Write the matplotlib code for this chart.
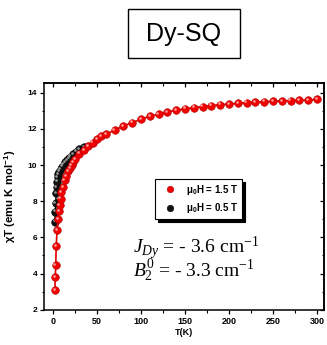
import matplotlib
matplotlib.use('Agg')
import matplotlib.pyplot as plt
from matplotlib.patches import Rectangle
from matplotlib.ticker import MultipleLocator
import matplotlib.transforms as mtransforms

# ---- data ----
T_15 = [2, 2.5, 3, 3.5, 4.5, 5.5, 6.5, 7.5, 8.5, 9.5, 11, 13, 15, 17, 19, 21, 23, 25,
        30, 35, 40, 45, 50, 55, 60, 70, 80, 90, 100, 110, 120, 130, 140, 150, 160,
        170, 180, 190, 200, 210, 220, 230, 240, 250, 260, 270, 280, 290, 300]
chi_15 = [3.10, 3.80, 4.45, 5.50, 6.40, 7.00, 7.45, 7.80, 8.15, 8.50, 8.80, 9.15, 9.40,
          9.65, 9.85, 10.02, 10.18, 10.35, 10.63, 10.85, 11.06, 11.24, 11.43, 11.60,
          11.71, 11.93, 12.17, 12.35, 12.54, 12.70, 12.81, 12.94, 13.03, 13.12, 13.18,
          13.24, 13.29, 13.35, 13.38, 13.42, 13.46, 13.49, 13.51, 13.53, 13.55, 13.57,
          13.59, 13.60, 13.64]
T_05 = [2, 2.5, 3, 3.5, 4, 4.5, 5, 6, 7, 8.5, 10, 12, 14, 16, 18, 20, 23, 26, 30, 35]
chi_05 = [6.88, 7.42, 7.89, 8.44, 8.80, 9.08, 9.33, 9.49, 9.64, 9.77, 9.91, 10.03,
          10.15, 10.27, 10.38, 10.47, 10.62, 10.75, 10.88, 10.98]
label_15 = 'μ$_\\mathregular{0}$H = 1.5 T'
label_05 = 'μ$_\\mathregular{0}$H = 0.5 T'
title = 'Dy-SQ'
xlabel = 'T(K)'
ylabel = 'χT (emu K mol$^{\\mathregular{-1}}$)'
note1 = '$J_{Dy}$ = - 3.6 cm$^{\\mathregular{-1}}$'
note2 = '$B_\\mathregular{2}^\\mathregular{0}$ = - 3.3 cm$^{\\mathregular{-1}}$'

plt.rcParams['font.family'] = ['Liberation Sans', 'DejaVu Sans']
plt.rcParams['mathtext.fontset'] = 'custom'
plt.rcParams['mathtext.it'] = 'Liberation Serif:italic'
plt.rcParams['mathtext.rm'] = 'Liberation Serif'
plt.rcParams['mathtext.bf'] = 'Liberation Serif:bold'

fig = plt.figure(figsize=(3.27, 3.45), dpi=100)
ax = fig.add_axes([0.1355, 0.1023, 0.8555, 0.658])

ms = 5.5
hl = mtransforms.offset_copy(ax.transData, fig=fig, x=-0.9, y=0.9, units='points')

hb, = ax.plot(T_05, chi_05, '-', color='black', lw=1.0, marker='o', ms=ms,
              mfc='#111111', mec='black', mew=0.4, label=label_05, zorder=2)
ax.plot(T_05, chi_05, 'o', ms=ms * 0.35, mfc='#9a9a9a', mec='none', lw=0,
        transform=hl, zorder=2.1)
hr, = ax.plot(T_15, chi_15, '-', color='#e00000', lw=1.2, marker='o', ms=ms,
              mfc='#f00000', mec='#b00000', mew=0.4, label=label_15, zorder=3)
ax.plot(T_15, chi_15, 'o', ms=ms * 0.35, mfc='#ff9a9a', mec='none', lw=0,
        transform=hl, zorder=3.1)

ax.set_xlim(-10, 308)
ax.set_ylim(2, 14.56)
ax.xaxis.set_major_locator(MultipleLocator(50))
ax.xaxis.set_minor_locator(MultipleLocator(25))
ax.yaxis.set_major_locator(MultipleLocator(2))
ax.yaxis.set_minor_locator(MultipleLocator(1))
ax.tick_params(which='major', direction='out', length=3, width=0.9, pad=2)
ax.tick_params(which='minor', direction='out', length=1.8, width=0.8)
ax.tick_params(axis='x', labelsize=6.5)
ax.tick_params(axis='y', labelsize=6)
for lab in ax.get_xticklabels() + ax.get_yticklabels():
    lab.set_fontweight('bold')
for s in ax.spines.values():
    s.set_linewidth(1.1)

secx = ax.secondary_xaxis('top')
secx.xaxis.set_major_locator(MultipleLocator(50))
secx.xaxis.set_minor_locator(MultipleLocator(25))
secx.tick_params(which='major', direction='in', length=3, width=0.9, labeltop=False)
secx.tick_params(which='minor', direction='in', length=1.8, width=0.8)
secx.spines['top'].set_linewidth(1.1)
secy = ax.secondary_yaxis('right')
secy.yaxis.set_major_locator(MultipleLocator(2))
secy.yaxis.set_minor_locator(MultipleLocator(1))
secy.tick_params(which='major', direction='in', length=3, width=0.9, labelright=False)
secy.tick_params(which='minor', direction='in', length=1.8, width=0.8)
secy.spines['right'].set_linewidth(1.1)

ax.set_xlabel(xlabel, fontsize=6.5, fontweight='bold', labelpad=2)
ax.set_ylabel(ylabel, fontsize=8.2, fontweight='bold')
ax.yaxis.set_label_coords(-0.094, 0.5)

leg = ax.legend(handles=[hr, hb], loc='upper left', bbox_to_anchor=(0.396, 0.576),
                borderaxespad=0, frameon=True, fancybox=False,
                shadow={'color': 'black', 'alpha': 1},
                prop={'family': 'Liberation Sans', 'weight': 'bold', 'size': 7},
                numpoints=1, handlelength=2.2, handletextpad=0.6,
                labelspacing=0.45, borderpad=0.4, markerscale=0.85)
leg.get_frame().set_edgecolor('black')
leg.get_frame().set_linewidth(0.8)
for h in leg.legend_handles:
    h.set_linestyle('none')

ax.text(0.317, 0.248, note1, transform=ax.transAxes, fontsize=14,
        family='Liberation Serif', va='baseline', ha='left')
ax.text(0.317, 0.146, note2, transform=ax.transAxes, fontsize=14,
        family='Liberation Serif', va='baseline', ha='left')

fig.patches.append(Rectangle((128 / 327, 1 - 58 / 345), 112 / 327, 49 / 345,
                             transform=fig.transFigure, fill=False,
                             edgecolor='black', linewidth=1.0))
fig.text(184 / 327, 1 - 33.5 / 345, title, fontsize=18, ha='center', va='center',
         family='Liberation Sans')

fig.savefig('out.png', dpi=100)
